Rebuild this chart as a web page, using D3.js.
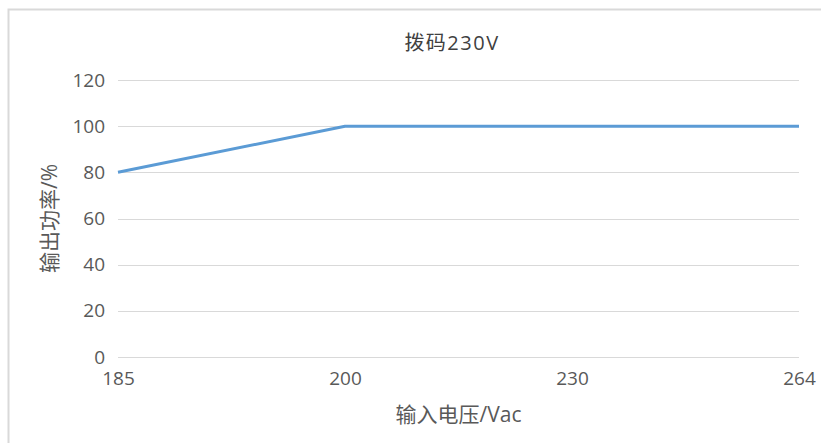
<!DOCTYPE html>
<html>
<head>
<meta charset="utf-8">
<script src="https://cdn.jsdelivr.net/npm/d3@7"></script>
<style>
  body { margin: 0; background: #fff; }
  text { font-family: "Open Sans", "Noto Sans CJK SC", sans-serif; fill: #595959; }
</style>
</head>
<body>
<script>
const voltages = ["185", "200", "230", "264"];
const power = [80, 100, 100, 100];
const yTicks = [0, 20, 40, 60, 80, 100, 120];

const W = 821, H = 443;
const margin = { top: 80, right: 22, bottom: 86, left: 118 },
      width = W - margin.left - margin.right,
      height = H - margin.top - margin.bottom;

const root = d3.select("body")
  .append("svg")
  .attr("width", W)
  .attr("height", H);

// chart frame (only top and left edges visible in the crop)
root.append("path")
  .attr("d", `M8.5,${H} V9.5 H${W}`)
  .attr("fill", "none")
  .attr("stroke", "#d9d9d9")
  .attr("stroke-width", 2);

const svg = root.append("g")
  .attr("transform", `translate(${margin.left},${margin.top})`);

const x = d3.scalePoint()
  .domain(voltages)
  .range([0, width]);

const y = d3.scaleLinear()
  .domain([0, 120])
  .range([height, 0]);

// gridlines
svg.append("g")
  .selectAll("line")
  .data(yTicks)
  .enter()
  .append("line")
  .attr("x1", 0)
  .attr("x2", width)
  .attr("y1", d => Math.round(y(d)) + 0.5)
  .attr("y2", d => Math.round(y(d)) + 0.5)
  .attr("stroke", "#d9d9d9")
  .attr("stroke-width", 1);

// y labels
const yAxis = svg.append("g")
  .call(d3.axisLeft(y).tickValues(yTicks).tickSize(0).tickPadding(13));
yAxis.select(".domain").remove();
yAxis.selectAll("text").style("font-size", "19px").style("font-family", "'Open Sans'");

// x labels
const xAxis = svg.append("g")
  .attr("transform", `translate(0,${height})`)
  .call(d3.axisBottom(x).tickSize(0).tickPadding(15));
xAxis.select(".domain").remove();
xAxis.selectAll("text").style("font-size", "19px").style("font-family", "'Open Sans'");

// line
const line = d3.line()
  .x((d, i) => x(voltages[i]))
  .y(d => y(d));

svg.append("path")
  .datum(power)
  .attr("d", line)
  .attr("fill", "none")
  .attr("stroke", "#5b9bd5")
  .attr("stroke-width", 3)
  .attr("stroke-linejoin", "round");

// title
root.append("text")
  .attr("x", 452)
  .attr("y", 43)
  .attr("text-anchor", "middle")
  .attr("dy", "0.35em")
  .style("font-size", "20px")
  .style("letter-spacing", "1.5px")
  .style("fill", "#404040")
  .text("拨码230V");

// axis titles
root.append("text")
  .attr("x", margin.left + width / 2)
  .attr("y", 415)
  .attr("text-anchor", "middle")
  .attr("dy", "0.35em")
  .style("font-size", "21px")
  .text("输入电压/Vac");

root.append("text")
  .attr("transform", `translate(50,${margin.top + height / 2}) rotate(-90)`)
  .attr("text-anchor", "middle")
  .attr("dy", "0.35em")
  .style("font-size", "21px")
  .text("输出功率/%");
</script>
</body>
</html>
